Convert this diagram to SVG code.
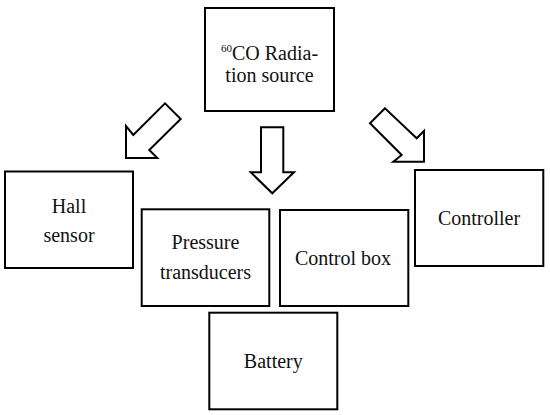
<svg xmlns="http://www.w3.org/2000/svg" width="550" height="415" viewBox="0 0 550 415">
<style>
.box{fill:#fff;stroke:#000;stroke-width:2}
.arr{fill:#fff;stroke:#000;stroke-width:2;stroke-linejoin:miter}
text{font-family:'Liberation Serif','Times New Roman',Times,serif;font-size:20px;fill:#111;text-anchor:middle}
.sup{font-size:11px}
</style>
<rect width="550" height="415" fill="#fff"/>
<g id="source">
<rect class="box" x="205" y="8" width="129" height="103"/>
<text x="269.5" y="60"><tspan class="sup" dy="-8">60</tspan><tspan dy="8">CO Radia-</tspan></text>
<text x="269.5" y="82">tion source</text>
</g>
<g id="connectors">
<polygon class="arr" points="126,158 126,126 133.3,135 165,103.3 180.7,119 149.3,150 157.3,158"/>
<polygon class="arr" points="261,127.3 283.3,127.3 283.3,172.3 294,172.3 272.3,193.3 250.7,172.3 261,172.3"/>
<polygon class="arr" points="385,108.3 370,123.3 401.7,155 393.3,161.7 424,161.7 424,131 416.7,138.3"/>
</g>
<g id="hall">
<rect class="box" x="5" y="171.5" width="128" height="96.5"/>
<text x="69" y="212.7">Hall</text>
<text x="69" y="241.7">sensor</text>
</g>
<g id="pressure">
<rect class="box" x="141.7" y="209.3" width="127.6" height="96.7"/>
<text x="205.5" y="249.3">Pressure</text>
<text x="205.5" y="279.3">transducers</text>
</g>
<g id="controlbox">
<rect class="box" x="280" y="210" width="128.3" height="96"/>
<text x="343" y="265">Control box</text>
</g>
<g id="controller">
<rect class="box" x="415" y="170" width="128.3" height="96"/>
<text x="479" y="225">Controller</text>
</g>
<g id="battery">
<rect class="box" x="209.3" y="312.7" width="128" height="96.6"/>
<text x="273.3" y="368.3">Battery</text>
</g>
</svg>
